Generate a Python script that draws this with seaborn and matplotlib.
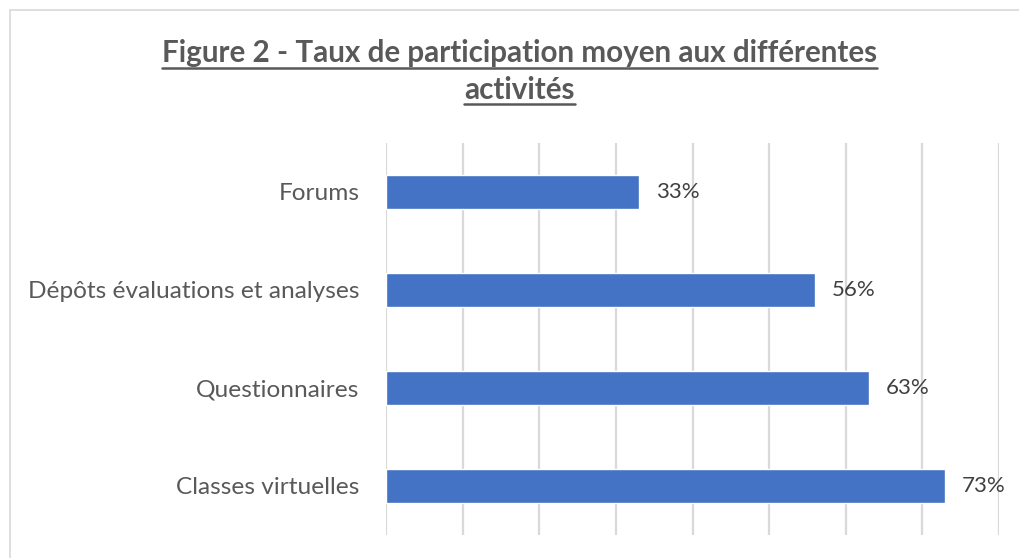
import matplotlib
matplotlib.use("Agg")
import matplotlib.pyplot as plt
from matplotlib.lines import Line2D
from matplotlib.patches import Rectangle
import seaborn as sns
import pandas as pd

# Data
activites = ["Forums", "Dépôts évaluations et analyses", "Questionnaires", "Classes virtuelles"]
taux = [0.33, 0.56, 0.63, 0.73]
etiquettes = ["33%", "56%", "63%", "73%"]
titre_l1 = "Figure 2 - Taux de participation moyen aux différentes"
titre_l2 = "activités"

df = pd.DataFrame({"activite": activites, "taux": taux})

sns.set_theme(style="white")
plt.rcParams["font.family"] = ["Lato", "DejaVu Sans"]

W, H, DPI = 1019, 558, 100
fig = plt.figure(figsize=(W / DPI, H / DPI), dpi=DPI)
fig.patch.set_facecolor("white")

# Chart frame (open on the right and bottom edges)
fig.patches.append(Rectangle((10 / W, -0.1), 1.2, (H - 10) / H + 0.1,
                             transform=fig.transFigure, fill=False,
                             edgecolor="#D9D9D9", linewidth=1.2))

ax = fig.add_axes([386 / W, 23 / H, 613 / W, 392 / H])
sns.barplot(data=df, x="taux", y="activite", orient="h", color="#4472C4",
            width=0.35, saturation=1, ax=ax)

ax.set_xlim(0, 0.8)
ax.set_ylim(3.5, -0.5)
ax.set_xticks([i / 10 for i in range(9)])
ax.set_xticklabels([])
ax.xaxis.grid(True, color="#D9D9D9", linewidth=1.6)
ax.set_axisbelow(True)
for s in ax.spines.values():
    s.set_visible(False)
ax.tick_params(axis="both", length=0)
ax.tick_params(axis="y", pad=19, labelsize=17.6, labelcolor="#595959")
ax.set_xlabel("")
ax.set_ylabel("")

ax.bar_label(ax.containers[0], labels=etiquettes, padding=12,
             fontsize=16, color="#404040")

# Underlined two-line title
t1 = fig.text(519.5 / W, 1 - 62 / H, titre_l1, ha="center", va="baseline",
              fontsize=21.3, fontweight="bold", color="#595959")
t2 = fig.text(519.5 / W, 1 - 99 / H, titre_l2, ha="center", va="baseline",
              fontsize=21.3, fontweight="bold", color="#595959")

fig.canvas.draw()
inv = fig.transFigure.inverted()
for t, y_px in ((t1, 67.5), (t2, 104)):
    bb = t.get_window_extent()
    x0 = inv.transform((bb.x0, 0))[0]
    x1 = inv.transform((bb.x1, 0))[0]
    y = 1 - y_px / H
    fig.add_artist(Line2D([x0, x1], [y, y], transform=fig.transFigure,
                          color="#595959", linewidth=1.8))

fig.savefig("out.png", dpi=DPI)
